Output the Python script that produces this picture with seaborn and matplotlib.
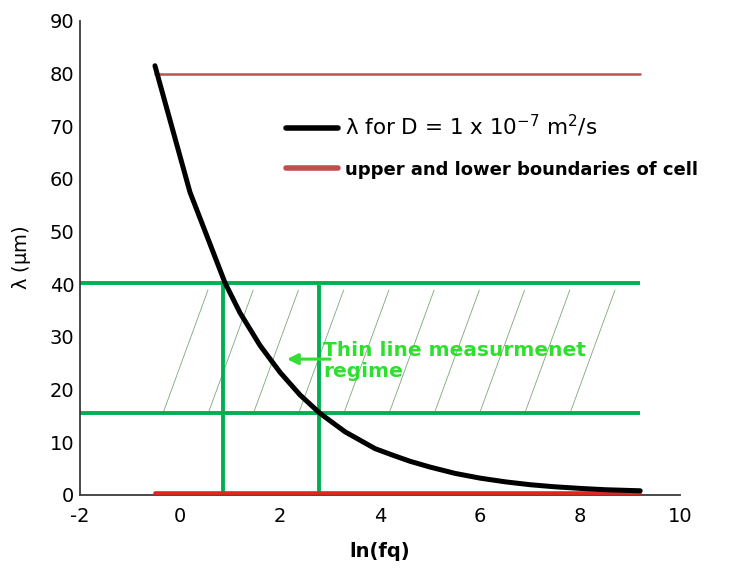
import numpy as np
import matplotlib
matplotlib.use("Agg")
import matplotlib.pyplot as plt
import seaborn as sns
from matplotlib.lines import Line2D

# Penetration depth curve
ln_fq = [-0.5, 0.2, 0.9, 1.2, 1.6, 2.0, 2.4, 2.8, 3.3, 3.9, 4.3, 4.6, 5.0, 5.5,
         6.0, 6.5, 7.0, 7.5, 8.0, 8.5, 9.2]
lam_um = [81.5, 57.5, 40.3, 34.6, 28.4, 23.3, 19.0, 15.5, 12.0, 8.8, 7.4, 6.4, 5.3, 4.1,
          3.2, 2.5, 1.95, 1.55, 1.25, 1.0, 0.8]

# Cell boundaries (upper, lower) and their x-extent
cell_bounds = [80.0, 0.4]
cell_x = [-0.5, 9.2]

# Thin-line measurement regime: lambda limits and the ln(fq) where the curve meets them
regime_lam = [40.3, 15.5]
regime_lnfq = [0.86, 2.78]
regime_x_end = 9.2

x_ticks = [-2, 0, 2, 4, 6, 8, 10]
y_ticks = [0, 10, 20, 30, 40, 50, 60, 70, 80, 90]

sns.set_style("white")
plt.rcParams["font.family"] = ["DejaVu Sans"]
plt.rcParams["mathtext.default"] = "regular"
plt.rcParams["axes.unicode_minus"] = False
plt.rcParams["text.color"] = "black"
plt.rcParams["axes.labelcolor"] = "black"

GREEN = "#00b050"
AXIS = "#3a3a3a"

fig = plt.figure(figsize=(7.33, 5.70), dpi=100)
ax = fig.add_axes([0.109, 0.1316, 0.819, 0.8316])

# hatching of the regime band
hatch_dx = 0.904
hatch_top = 38.9
for x0 in np.arange(-0.34, 7.9, hatch_dx):
    ax.plot([x0, x0 + 0.9], [regime_lam[1], hatch_top], color="#7aa87a", lw=0.6, zorder=1)

# regime limits
for lv in regime_lam:
    ax.plot([-2, regime_x_end], [lv, lv], color=GREEN, lw=2.8, zorder=2, solid_capstyle="butt")
for xv in regime_lnfq:
    ax.plot([xv, xv], [0.5, regime_lam[0]], color=GREEN, lw=2.8, zorder=2, solid_capstyle="butt")

# cell boundaries
ax.plot(cell_x, [cell_bounds[0]] * 2, color="#c0504d", lw=1.8, zorder=3)
ax.plot(cell_x, [cell_bounds[1]] * 2, color="#e8231f", lw=2.6, zorder=3)

# lambda curve
sns.lineplot(x=ln_fq, y=lam_um, ax=ax, color="black", lw=3.6, zorder=4)

# annotation
ax.annotate("", xy=(2.14, 25.8), xytext=(3.0, 25.8),
            arrowprops=dict(arrowstyle="-|>", color="#33dd33", lw=2.2,
                            mutation_scale=16, shrinkA=0, shrinkB=0), zorder=5)
ax.text(2.86, 25.5, "Thin line measurmenet\nregime", color="#2ee02e", fontsize=14.5,
        fontweight="bold", ha="left", va="center", linespacing=1.15, zorder=5)

ax.set_xlim(-2, 10)
ax.set_ylim(0, 90)
ax.set_xticks(x_ticks)
ax.set_yticks(y_ticks)
ax.tick_params(direction="in", length=5, width=1.2, colors=AXIS, labelsize=14,
               labelcolor="black")
ax.tick_params(axis="x", pad=9)
ax.tick_params(axis="y", pad=4)
for side in ("top", "right"):
    ax.spines[side].set_visible(False)
for side in ("left", "bottom"):
    ax.spines[side].set_color(AXIS)
    ax.spines[side].set_linewidth(1.3)

ax.set_xlabel("ln(fq)", fontsize=14, fontweight="bold", labelpad=11)
ax.set_ylabel("$\\lambda$ ($\\mu$m)", fontsize=14, labelpad=12)

handles = [Line2D([], [], color="black", lw=4.0),
           Line2D([], [], color="#c0504d", lw=4.0)]
labels = ["$\\lambda$ for D = 1 x 10$^{-7}$ m$^2$/s",
          "upper and lower boundaries of cell"]
leg = ax.legend(handles, labels, loc="upper left", bbox_to_anchor=(0.378, 0.818),
                bbox_transform=fig.transFigure, frameon=False, borderpad=0,
                fontsize=13, handlelength=2.9, handletextpad=0.35, labelspacing=1.2,
                labelcolor="black")
leg.get_texts()[0].set_fontsize(15.5)
leg.get_texts()[1].set_fontweight("bold")

fig.savefig("out.png", dpi=100, facecolor="white")
